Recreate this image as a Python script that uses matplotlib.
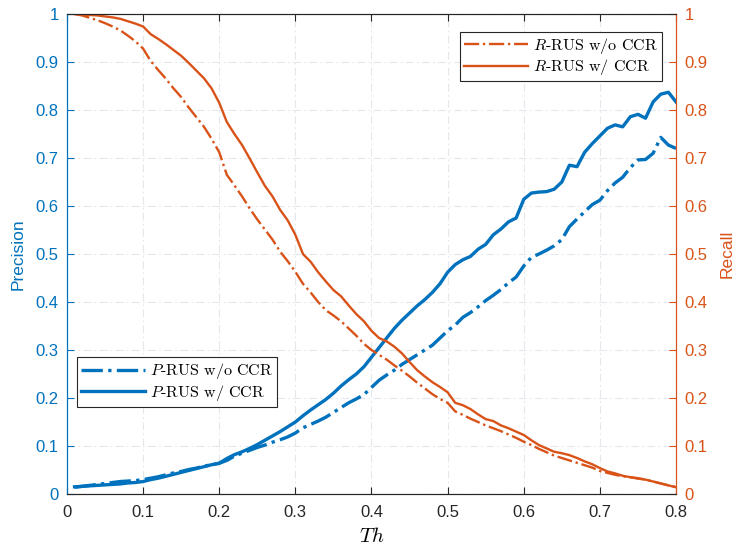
import numpy as np
import matplotlib
matplotlib.use("Agg")
import matplotlib.pyplot as plt

plt.rcParams['font.family'] = ['Liberation Sans', 'DejaVu Sans']
plt.rcParams['mathtext.fontset'] = 'cm'

# Threshold values
th = np.round(np.arange(1, 81) * 0.01, 2)

precision_wo_ccr = [
    0.014, 0.016, 0.018, 0.020, 0.022, 0.024, 0.026, 0.027, 0.028, 0.030,
    0.033, 0.036, 0.040, 0.044, 0.047, 0.051, 0.054, 0.058, 0.061, 0.064,
    0.070, 0.079, 0.085, 0.091, 0.097, 0.102, 0.108, 0.113, 0.119, 0.127,
    0.138, 0.145, 0.152, 0.160, 0.170, 0.180, 0.190, 0.198, 0.207, 0.222,
    0.237, 0.248, 0.258, 0.270, 0.280, 0.290, 0.300, 0.310, 0.325, 0.340,
    0.352, 0.368, 0.378, 0.390, 0.403, 0.414, 0.426, 0.440, 0.452, 0.475,
    0.493, 0.500, 0.508, 0.517, 0.530, 0.557, 0.573, 0.588, 0.603, 0.612,
    0.632, 0.648, 0.660, 0.680, 0.696, 0.697, 0.710, 0.743, 0.727, 0.720,
]
precision_w_ccr = [
    0.015, 0.016, 0.017, 0.018, 0.019, 0.020, 0.021, 0.023, 0.024, 0.026,
    0.030, 0.033, 0.037, 0.041, 0.045, 0.049, 0.053, 0.057, 0.061, 0.064,
    0.074, 0.082, 0.088, 0.095, 0.103, 0.112, 0.121, 0.130, 0.140, 0.150,
    0.163, 0.175, 0.186, 0.197, 0.210, 0.225, 0.238, 0.250, 0.265, 0.285,
    0.305, 0.325, 0.345, 0.362, 0.377, 0.392, 0.405, 0.420, 0.438, 0.462,
    0.478, 0.488, 0.495, 0.510, 0.520, 0.540, 0.552, 0.567, 0.575, 0.614,
    0.627, 0.629, 0.630, 0.635, 0.650, 0.685, 0.682, 0.712, 0.730, 0.746,
    0.762, 0.769, 0.765, 0.786, 0.791, 0.783, 0.817, 0.833, 0.837, 0.817,
]
recall_wo_ccr = [
    1.000, 0.997, 0.992, 0.987, 0.981, 0.974, 0.966, 0.955, 0.943, 0.928,
    0.902, 0.883, 0.865, 0.845, 0.827, 0.805, 0.785, 0.765, 0.740, 0.712,
    0.665, 0.643, 0.620, 0.595, 0.572, 0.551, 0.530, 0.505, 0.485, 0.463,
    0.438, 0.420, 0.400, 0.383, 0.372, 0.360, 0.345, 0.330, 0.313, 0.300,
    0.290, 0.280, 0.268, 0.257, 0.245, 0.232, 0.220, 0.208, 0.198, 0.190,
    0.172, 0.165, 0.157, 0.150, 0.143, 0.137, 0.131, 0.124, 0.117, 0.109,
    0.102, 0.094, 0.087, 0.080, 0.075, 0.070, 0.065, 0.060, 0.055, 0.048,
    0.044, 0.040, 0.037, 0.035, 0.032, 0.030, 0.026, 0.022, 0.018, 0.015,
]
recall_w_ccr = [
    1.000, 0.999, 0.998, 0.997, 0.995, 0.993, 0.990, 0.985, 0.980, 0.974,
    0.958, 0.948, 0.937, 0.925, 0.913, 0.898, 0.882, 0.866, 0.845, 0.815,
    0.775, 0.750, 0.727, 0.699, 0.670, 0.642, 0.620, 0.592, 0.570, 0.540,
    0.500, 0.484, 0.462, 0.443, 0.425, 0.412, 0.393, 0.375, 0.360, 0.340,
    0.325, 0.318, 0.307, 0.293, 0.275, 0.258, 0.245, 0.233, 0.223, 0.212,
    0.190, 0.185, 0.177, 0.166, 0.156, 0.152, 0.143, 0.137, 0.130, 0.123,
    0.112, 0.102, 0.095, 0.088, 0.085, 0.081, 0.075, 0.068, 0.062, 0.054,
    0.047, 0.043, 0.038, 0.035, 0.033, 0.030, 0.026, 0.022, 0.018, 0.014,
]

x_ticks = np.round(np.arange(0, 0.81, 0.1), 1)
y_ticks = np.round(np.arange(0, 1.01, 0.1), 1)
x_ticklabels = ['0', '0.1', '0.2', '0.3', '0.4', '0.5', '0.6', '0.7', '0.8']
y_ticklabels = ['0', '0.1', '0.2', '0.3', '0.4', '0.5', '0.6', '0.7', '0.8', '0.9', '1']

BLUE = '#0072BD'
ORANGE = '#D95319'
DARK = '#262626'

fig = plt.figure(figsize=(7.4, 5.5), dpi=100)
ax = fig.add_axes([0.0905, 0.1018, 0.8230, 0.8727])
ax2 = ax.twinx()

grid_style = dict(color='#e4e7ec', linewidth=0.8, linestyle=(0, (7, 3, 1.5, 3)))

# Precision (left axis)
l1, = ax.plot(th, precision_wo_ccr, color=BLUE, linewidth=2.4, linestyle='-.',
              label=r'$P$-RUS w/o CCR')
l2, = ax.plot(th, precision_w_ccr, color=BLUE, linewidth=2.4, linestyle='-',
              label=r'$P$-RUS w/ CCR')

# Recall (right axis)
l3, = ax2.plot(th, recall_wo_ccr, color=ORANGE, linewidth=1.7, linestyle='-.',
               label=r'$R$-RUS w/o CCR')
l4, = ax2.plot(th, recall_w_ccr, color=ORANGE, linewidth=1.7, linestyle='-',
               label=r'$R$-RUS w/ CCR')

for a in (ax, ax2):
    a.set_xlim(0, 0.8)
    a.set_ylim(0, 1)
    a.set_xticks(x_ticks)
    a.set_yticks(y_ticks)

ax.set_xticklabels(x_ticklabels)
ax.set_yticklabels(y_ticklabels)
ax2.set_yticklabels(y_ticklabels)
ax.grid(True, **grid_style)
ax.set_axisbelow(True)

ax.tick_params(axis='x', which='both', direction='in', length=5, width=0.8,
               colors=DARK, labelsize=12, top=True, pad=8)
ax.tick_params(axis='y', direction='in', length=5, width=0.8, colors=BLUE,
               labelsize=12, pad=6)
ax2.tick_params(axis='y', direction='in', length=5, width=0.8, colors=ORANGE,
                labelsize=12, pad=6)

for s in ('top', 'bottom'):
    ax.spines[s].set_color(DARK)
    ax2.spines[s].set_color(DARK)
    ax.spines[s].set_linewidth(0.8)
    ax2.spines[s].set_linewidth(0.8)
ax.spines['left'].set_color(BLUE)
ax2.spines['left'].set_color(BLUE)
ax.spines['right'].set_color(ORANGE)
ax2.spines['right'].set_color(ORANGE)
for s in ('left', 'right'):
    ax.spines[s].set_linewidth(0.8)
    ax2.spines[s].set_linewidth(0.8)

ax.set_ylabel('Precision', color=BLUE, fontsize=12.5, labelpad=7)
ax2.set_ylabel('Recall', color=ORANGE, fontsize=12.5, labelpad=9)
ax.set_xlabel(r'$Th$', fontsize=15, labelpad=5)

leg_font = {'family': 'cmr10', 'size': 11.5}
leg_kw = dict(prop=leg_font, frameon=True, fancybox=False, edgecolor=DARK,
              framealpha=1, handlelength=4.0, borderpad=0.25,
              labelspacing=0.1, handletextpad=0.3, borderaxespad=0)
leg1 = ax.legend(handles=[l1, l2], loc='upper left',
                 bbox_to_anchor=(0.017, 0.285), **leg_kw)
leg1.get_frame().set_linewidth(0.8)
leg2 = ax2.legend(handles=[l3, l4], loc='upper right',
                  bbox_to_anchor=(0.9765, 0.963), **leg_kw)
leg2.get_frame().set_linewidth(0.8)

fig.savefig('out.png', dpi=100)
